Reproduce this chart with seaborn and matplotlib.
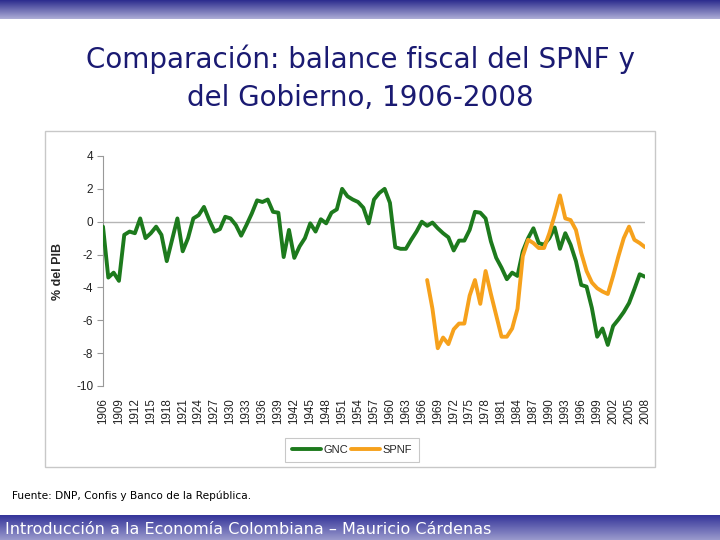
import numpy as np
import pandas as pd
import matplotlib.pyplot as plt
import seaborn as sns
from matplotlib.patches import Rectangle

# Balance fiscal (% del PIB)
years = list(range(1906, 2009))

gnc = [-0.3, -3.4, -3.1, -3.6, -0.8, -0.6, -0.7, 0.2, -1.0, -0.7,
       -0.3, -0.8, -2.4, -1.1, 0.2, -1.8, -1.0, 0.2, 0.4, 0.9,
       0.1, -0.6, -0.45, 0.3, 0.2, -0.2, -0.85, -0.2, 0.5, 1.3,
       1.2, 1.35, 0.6, 0.55, -2.15, -0.5, -2.2, -1.5, -1.0, -0.1,
       -0.6, 0.15, -0.1, 0.55, 0.75, 2.0, 1.55, 1.35, 1.2, 0.85,
       -0.1, 1.35, 1.75, 2.0, 1.15, -1.55, -1.65, -1.65, -1.1, -0.6,
       0.0, -0.25, -0.05, -0.4, -0.7, -0.95, -1.75, -1.15, -1.15, -0.5,
       0.6, 0.55, 0.2, -1.2, -2.2, -2.8, -3.5, -3.1, -3.3, -1.8,
       -1.0, -0.4, -1.3, -1.4, -1.0, -0.35, -1.65, -0.7, -1.4, -2.4,
       -3.85, -3.95, -5.25, -7.0, -6.5, -7.5, -6.35, -5.95, -5.5, -4.95,
       -4.1, -3.2, -3.35]

spnf_start = 1967
spnf = [-3.55, -5.3, -7.7, -7.05, -7.45, -6.55, -6.2, -6.2, -4.5, -3.55,
        -5.0, -3.0, -4.4, -5.7, -7.0, -7.0, -6.5, -5.3, -2.1, -1.1,
        -1.3, -1.6, -1.6, -0.7, 0.4, 1.6, 0.2, 0.1, -0.5, -1.9,
        -3.0, -3.7, -4.05, -4.25, -4.4, -3.3, -2.1, -1.0, -0.3, -1.1,
        -1.3, -1.55]

tick_years = list(range(1906, 2009, 3))

df = pd.DataFrame({'year': years, 'GNC': gnc})
df['SPNF'] = np.nan
df.loc[df['year'] >= spnf_start, 'SPNF'] = spnf
long = df.melt(id_vars='year', var_name='serie', value_name='valor').dropna()

green = '#1d7a1d'
orange = '#f6a11c'

sns.set_style('white')
plt.rcParams['font.family'] = ['DejaVu Sans']
plt.rcParams['axes.unicode_minus'] = False

fig = plt.figure(figsize=(7.2, 5.4), dpi=100)

# gradient bars (top and bottom of the slide)
def gradient_bar(y0, h, c_top, c_bot):
    bax = fig.add_axes([0, y0, 1, h])
    top = np.array(plt.matplotlib.colors.to_rgb(c_top))
    bot = np.array(plt.matplotlib.colors.to_rgb(c_bot))
    t = np.linspace(0, 1, 50)[:, None]
    grad = (top * (1 - t) + bot * t)[:, None, :]
    bax.imshow(grad, aspect='auto', extent=[0, 1, 0, 1])
    bax.set_axis_off()
    return bax

gradient_bar(1 - 19 / 540, 19 / 540, '#2c2c8e', '#aeaed6')
bot_ax = gradient_bar(0, 25 / 540, '#34349a', '#9a9acc')
bot_ax.text(0.007, 0.4, 'Introducción a la Economía Colombiana – Mauricio Cárdenas',
            transform=bot_ax.transAxes, color='white', fontsize=11.5,
            ha='left', va='center')

# title
fig.text(0.5, 1 - 59 / 540, 'Comparación: balance fiscal del SPNF y',
         ha='center', va='center', fontsize=20, color='#1a1a72')
fig.text(0.5, 1 - 98 / 540, 'del Gobierno, 1906-2008',
         ha='center', va='center', fontsize=20, color='#1a1a72')

# chart frame
fig.patches.append(Rectangle((45 / 720, 1 - 467 / 540), 610 / 720, 336 / 540,
                             transform=fig.transFigure, fill=False,
                             edgecolor='#c8c8c8', lw=1))

ax = fig.add_axes([103 / 720, 1 - 386 / 540, 542 / 720, 230 / 540])
sns.lineplot(data=long, x='year', y='valor', hue='serie',
             palette={'GNC': green, 'SPNF': orange}, linewidth=2.8,
             errorbar=None, ax=ax, legend=False, zorder=3)
ax.axhline(0, color='#b5b5b5', lw=1, zorder=1)

ax.set_xlim(1906, 2008)
ax.set_ylim(-10, 4)
ax.set_yticks(range(-10, 5, 2))
ax.set_xticks(tick_years)
ax.set_xticklabels([str(y) for y in tick_years], rotation=90,
                   fontsize=8.4, family='Liberation Sans', color='#222222')
for lab in ax.get_yticklabels():
    lab.set_family('Liberation Sans')
ax.tick_params(axis='y', labelsize=8.5, length=4, color='#999999',
               labelcolor='#222222', direction='out', left=True, pad=3)
ax.tick_params(axis='x', length=0, pad=9)
for s in ['top', 'right', 'bottom']:
    ax.spines[s].set_visible(False)
ax.spines['left'].set_color('#999999')
ax.set_xlabel('')
ax.set_ylabel('% del PIB', fontsize=9, fontweight='bold', family='Liberation Sans')
ax.yaxis.set_label_coords(-0.072, 0.5)
ax.set_facecolor('none')

# legend
handles = [plt.Line2D([], [], color=green, lw=2.8),
           plt.Line2D([], [], color=orange, lw=2.8)]
leg = fig.legend(handles, ['GNC', 'SPNF'], loc='center',
                 bbox_to_anchor=(352 / 720, 1 - 450 / 540), ncol=2,
                 frameon=True, fancybox=False, edgecolor='#bbbbbb',
                 handlelength=2.6, handletextpad=0.2, columnspacing=0.3,
                 prop={'family': 'Liberation Sans', 'size': 8},
                 borderpad=0.6)
leg.get_frame().set_linewidth(0.8)

fig.text(12 / 720, 1 - 496 / 540, 'Fuente: DNP, Confis y Banco de la República.',
         ha='left', va='center', fontsize=7.6, color='black')

fig.savefig('out.png', dpi=100)
